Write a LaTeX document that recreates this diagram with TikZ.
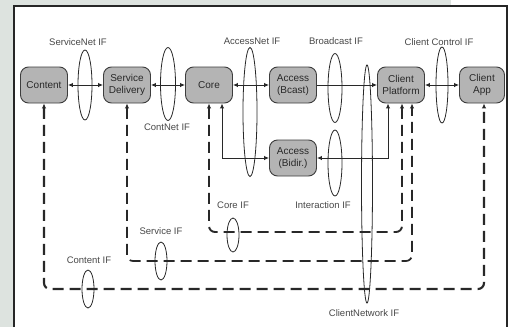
\documentclass[tikz,border=0pt]{standalone}
\usepackage{fontspec}
\setmainfont{Liberation Sans}
\usetikzlibrary{arrows.meta,shapes.geometric}
\definecolor{bgc}{RGB}{221,227,223}
\definecolor{nodefill}{RGB}{180,180,180}
\definecolor{ink}{RGB}{40,40,40}
\begin{document}
\begin{tikzpicture}[x=1pt,y=-1pt,
  >={Latex[length=5pt,width=4.5pt]},
  box/.style={draw=ink!90,fill=nodefill,line width=0.9pt,rounded corners=8pt,
    minimum width=47pt,minimum height=36pt,inner sep=1pt,align=center,
    font=\fontsize{10}{11.5}\selectfont,text=ink},
  iface/.style={draw=ink,ellipse,line width=0.8pt,inner sep=0pt},
  lbl/.style={font=\fontsize{9.5}{10}\selectfont,text=ink!85,inner sep=0pt},
  conn/.style={line width=1pt,draw=ink},
  dsh/.style={line width=1.9pt,dash pattern=on 11pt off 6pt,draw=ink,rounded corners=6pt}
]
\useasboundingbox (0,0) rectangle (511,327);
\fill[white] (0,0) rectangle (511,327);
\fill[bgc] (0,0) rectangle (14,327);
\fill[bgc] (0,0) rectangle (451,6);
\draw[line width=2pt,black!85] (14,327) -- (14,6) -- (507,6) -- (507,327);

% nodes
\node[box] (content) at (44,85) {Content};
\node[box] (sd) at (127,85) {Service\\Delivery};
\node[box] (core) at (209,85) {Core};
\node[box] (ab) at (293,85) {Access\\(Bcast)};
\node[box] (abi) at (293,158) {Access\\(Bidir.)};
\node[box] (cp) at (401,85) {Client\\Platform};
\node[box,minimum width=45pt] (ca) at (482,85) {Client\\App};

% solid connectors
\draw[conn,<->] (content) -- (sd);
\draw[conn,<->] (sd) -- (core);
\draw[conn,<->] (core) -- (ab);
\draw[conn,->] (ab) -- (cp);
\draw[conn,<->] (cp) -- (ca);
\draw[conn,<->] ([xshift=13pt]core.south) |- (abi.west);
\draw[conn,<->] (abi.east) -| ([xshift=-13pt]cp.south);

% dashed connectors
\coordinate (corey) at (300,232);
\coordinate (servy) at (300,261);
\coordinate (conty) at (300,289);
\draw[dsh,<->] (core.south) |- (corey) -| ([xshift=1pt]cp.south);
\draw[dsh,<->,line width=1.7pt] (sd.south) |- (servy) -| ([xshift=11pt]cp.south);
\draw[dsh,<->,line width=2.1pt] (content.south) |- (conty) -| ([xshift=2pt]ca.south);

% interfaces
\node[iface,minimum width=14pt,minimum height=70pt] (servicenet) at (85,85) {};
\node[lbl] at (78,42) {ServiceNet IF};
\node[iface,minimum width=15pt,minimum height=73pt] (contnet) at (168,84) {};
\node[lbl] at (167,127) {ContNet IF};
\node[iface,minimum width=14pt,minimum height=129pt] (accessnet) at (250,112) {};
\node[lbl] at (252,41) {AccessNet IF};
\node[iface,minimum width=14pt,minimum height=69pt] (bcast) at (335,88) {};
\node[lbl] at (336,41) {Broadcast IF};
\node[iface,minimum width=14pt,minimum height=66pt] (inter) at (335,163) {};
\node[lbl] at (323,205) {Interaction IF};
\node[iface,minimum width=12pt,minimum height=76pt] (cctrl) at (442,85) {};
\node[lbl] at (439,42) {Client Control IF};
\node[iface,minimum width=11pt,minimum height=238pt] (cnet) at (367,184) {};
\node[lbl] at (364,313) {ClientNetwork IF};
\node[iface,minimum width=12pt,minimum height=34pt] (coreif) at (233,235) {};
\node[lbl] at (233,205) {Core IF};
\node[iface,minimum width=12pt,minimum height=38pt] (servif) at (161,261) {};
\node[lbl] at (161,231) {Service IF};
\node[iface,minimum width=12pt,minimum height=38pt] (contif) at (88,289) {};
\node[lbl] at (89,260) {Content IF};
\end{tikzpicture}
\end{document}
